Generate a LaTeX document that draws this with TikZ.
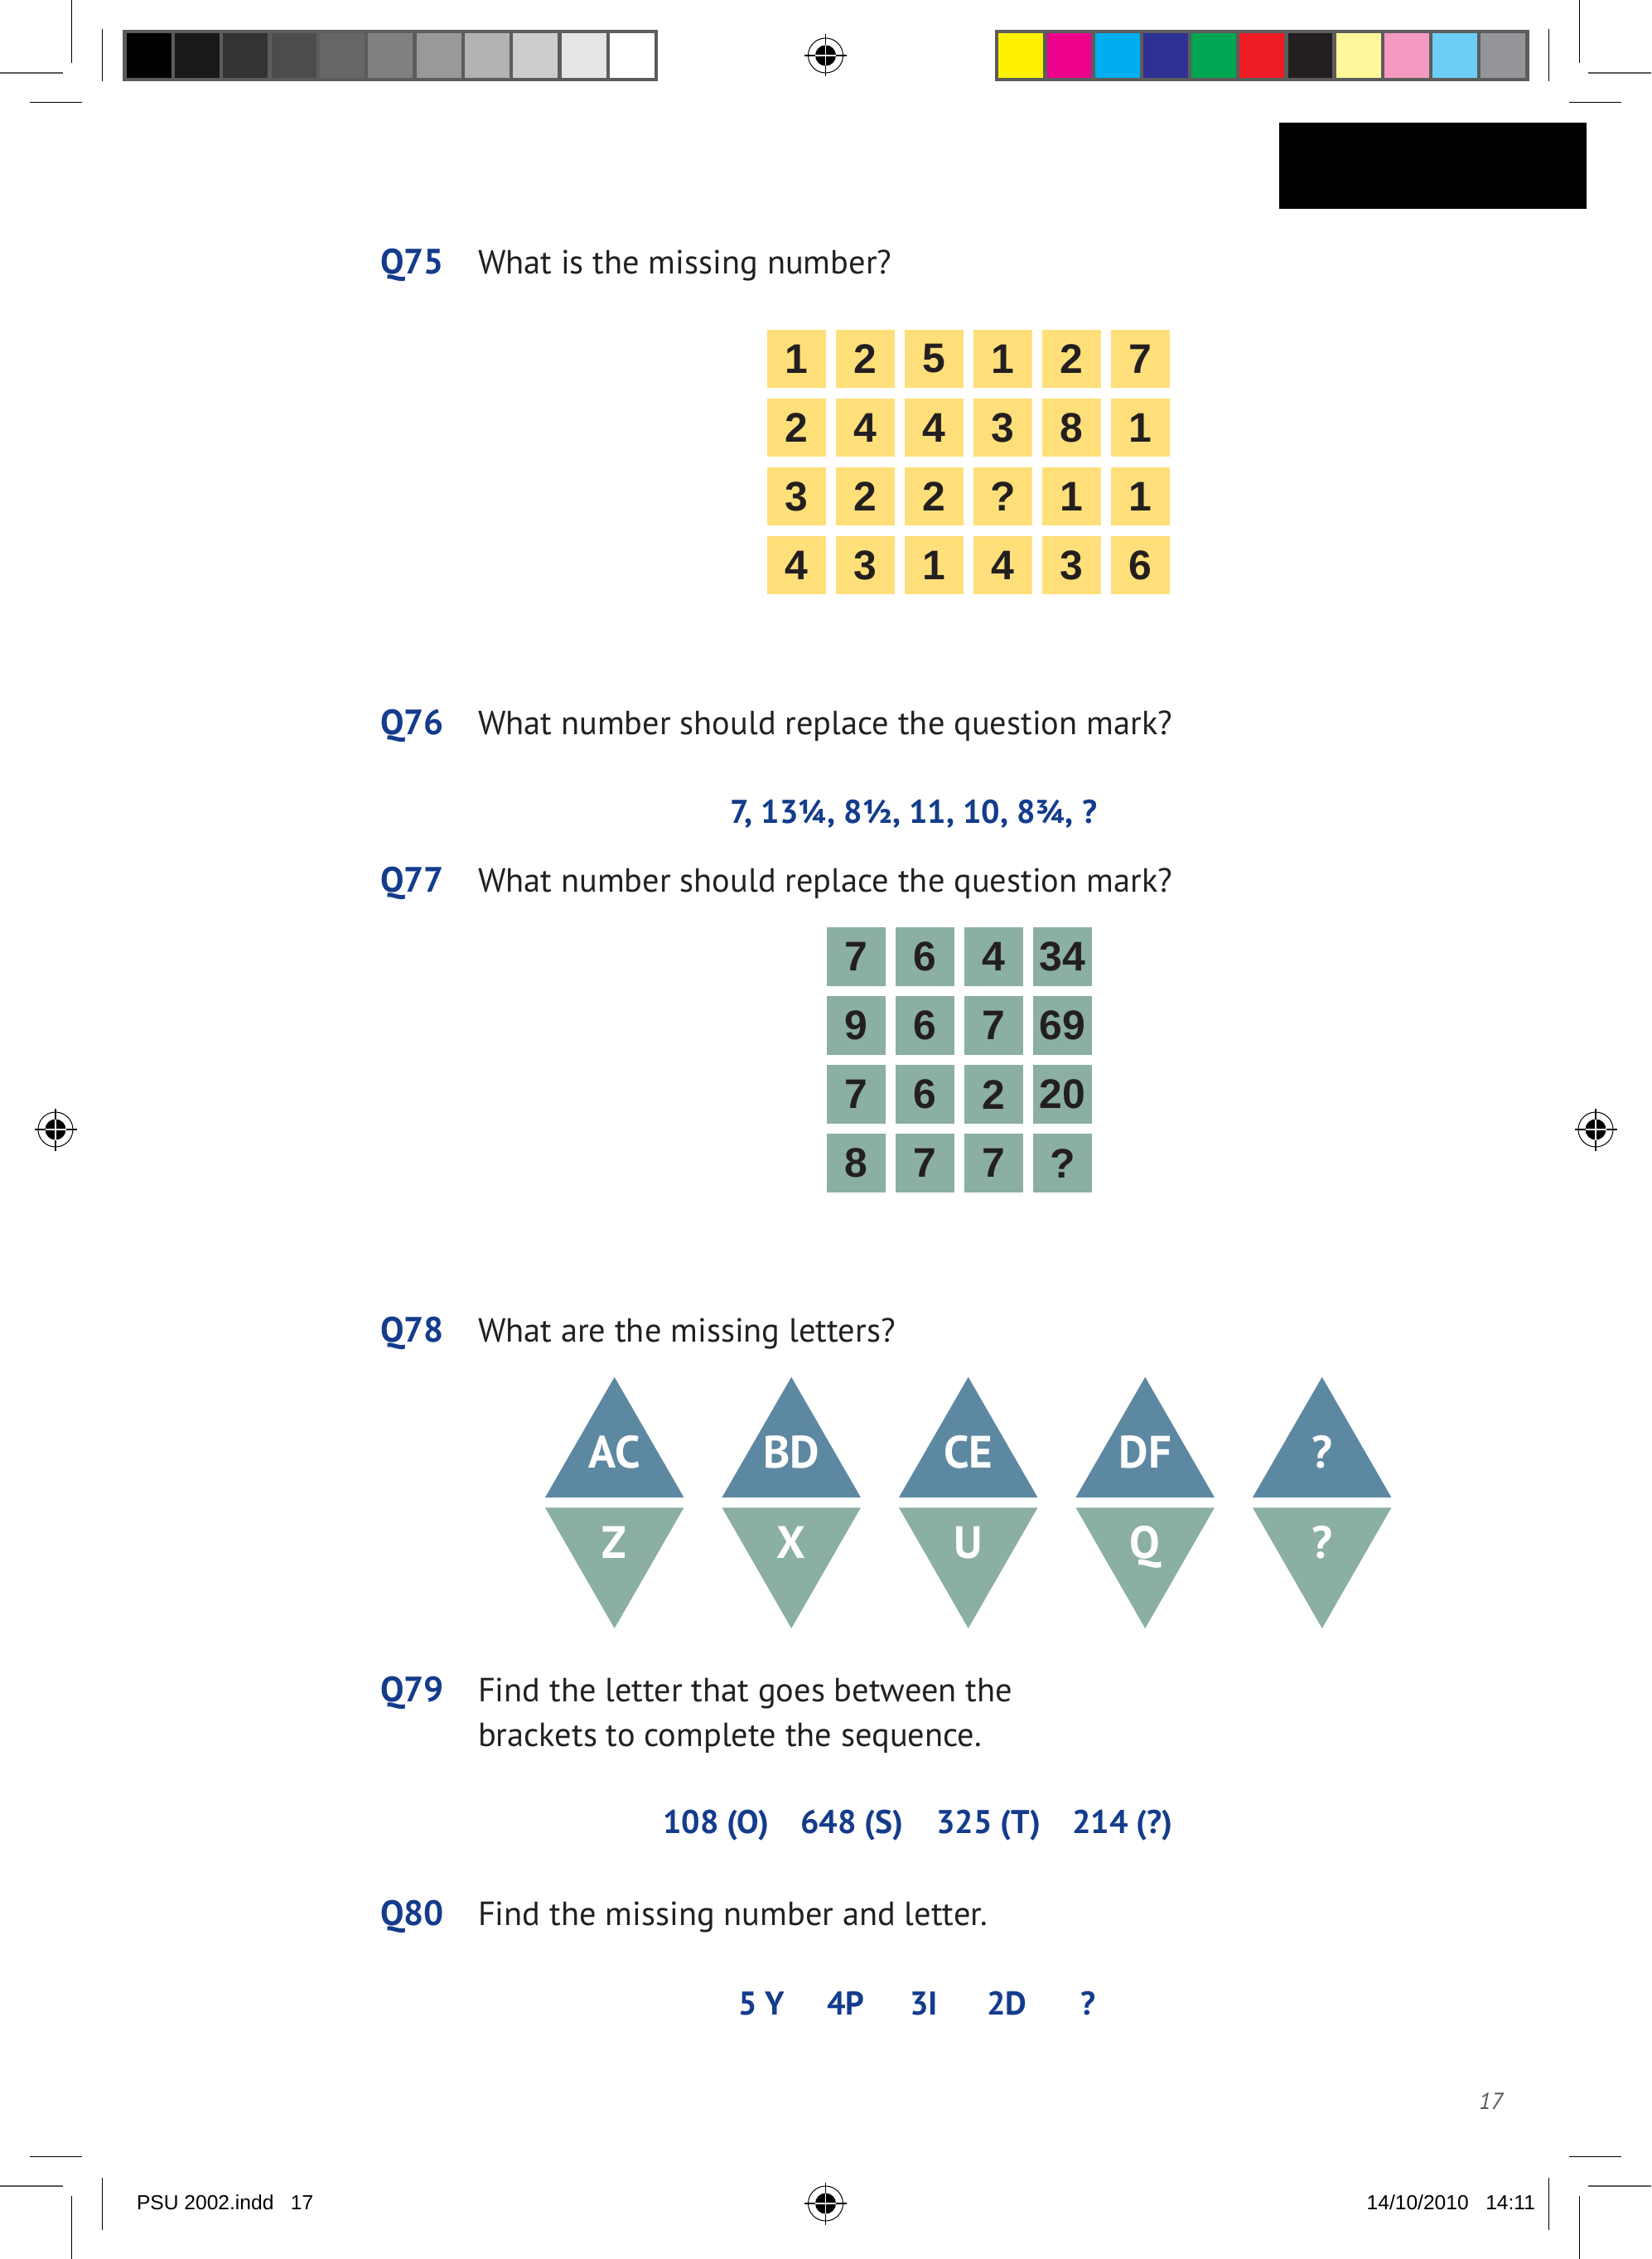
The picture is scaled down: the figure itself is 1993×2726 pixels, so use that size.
\documentclass[tikz,border=0pt]{standalone}
\usepackage{fontspec}
\setmainfont{PT Sans}
\newfontfamily\helv{Liberation Sans}
\usetikzlibrary{positioning}
\definecolor{qblue}{RGB}{20,60,140}
\definecolor{qtext}{RGB}{35,31,32}
\definecolor{cellyellow}{RGB}{255,223,122}
\definecolor{cellgreen}{RGB}{139,175,161}
\definecolor{triblue}{RGB}{93,136,162}
\definecolor{framegray}{RGB}{92,92,92}

\begin{document}
\begin{tikzpicture}[x=0.1mm, y=-0.1mm, inner sep=0pt, outer sep=0pt]
\tikzstyle{qlabel}=[anchor=base west, text=qblue, font=\fontsize{12.1}{13}\selectfont\bfseries]
\tikzstyle{qtext}=[anchor=base west, text=qtext, font=\fontsize{11.5}{13}\selectfont]
\tikzstyle{seq}=[anchor=base west, text=qblue, font=\fontsize{11.3}{13}\selectfont\bfseries]
\tikzstyle{ycell}=[fill=cellyellow, minimum width=7.15mm, minimum height=7.05mm, text=qtext, font=\helv\fontsize{14.2}{16}\selectfont\bfseries]
\tikzstyle{gcell}=[ycell, fill=cellgreen, minimum width=7.1mm]
\tikzstyle{trilabel}=[anchor=base, text=white, font=\fontsize{15.6}{17}\selectfont\bfseries]
\tikzstyle{crop}=[line width=0.12mm]
\useasboundingbox (0,0) rectangle (1993,2726);

\foreach \ox/\oy/\sx/\sy in {0/0/1/1, 1993/0/-1/1, 0/2726/1/-1, 1993/2726/-1/-1} {
  \begin{scope}[shift={(\ox,\oy)}, xscale=\sx, yscale=\sy]
    \draw[crop] (86.4,0) -- (86.4,76);
    \draw[crop, black!65, line width=0.2mm] (0,88.3) -- (76,88.3);
    \draw[crop] (123.3,35) -- (123.3,98.3);
    \draw[crop] (35.6,123.3) -- (99,123.3);
  \end{scope}
}

\foreach \rx/\ry in {996.5/67, 996.5/2659, 67/1363, 1926/1363} {
  \begin{scope}[shift={(\rx,\ry)}]
    \draw[line width=0.1mm] (0,0) circle[radius=21];
    \fill (0,0) circle[radius=12.5];
    \draw[line width=0.12mm] (-25.5,0) -- (25.5,0) (0,-25.5) -- (0,25.5);
    \draw[white, line width=0.12mm] (-12.5,0) -- (12.5,0) (0,-12.5) -- (0,12.5);
  \end{scope}
}

\fill[framegray] (148.3,35.7) rectangle (794.3,98.3);
\foreach \i in {0,...,10} {
  \pgfmathtruncatemacro\g{100-10*\i}
  \fill[black!\g] ({152.6+58.34*\i},40) rectangle ++(54,54);
}
\fill[framegray] (1201,35.7) rectangle (1845.5,98.3);
\foreach \c [count=\i from 0] in {FFF200,EC008C,00AEEF,2E3192,00A651,ED1C24,231F20,FFF799,F49AC1,6DCFF6,939598} {
  \definecolor{barcol}{HTML}{\c}
  \fill[barcol] ({1205.3+58.2*\i},40) rectangle ++(53.9,54);
}
\fill[black] (1544,148) rectangle (1915,252);

\node[qlabel] (q75) at (459,331) {Q75};
\node[qtext]  (t75) at (577,331) {What is the missing number?};
\foreach \row [count=\j from 0] in {{1,2,5,1,2,7},{2,4,4,3,8,1},{3,2,2,?,1,1},{4,3,1,4,3,6}} {
  \foreach \v [count=\i from 0] in \row
    \node[ycell] (a\j\i) at ({961.3+83*\i},{433+83*\j}) {\v};
}

\node[qlabel] (q76) at (459,886) {Q76};
\node[qtext]  (t76) at (577,886) {What number should replace the question mark?};
\node[seq]    (s76) at (881,993) {7, 13¼, 8½, 11, 10, 8¾, ?};

\node[qlabel] (q77) at (459,1076) {Q77};
\node[qtext]  (t77) at (577,1076) {What number should replace the question mark?};
\foreach \row [count=\j from 0] in {{7,6,4,34},{9,6,7,69},{7,6,2,20},{8,7,7,?}} {
  \foreach \v [count=\i from 0] in \row
    \node[gcell] (b\j\i) at ({1033.5+83*\i},{1154.7+83*\j}) {\v};
}

\node[qlabel] (q78) at (459,1619) {Q78};
\node[qtext]  (t78) at (577,1619) {What are the missing letters?};
\foreach \t/\b [count=\k from 0] in {AC/Z,BD/X,CE/U,DF/Q,?/?} {
  \pgfmathsetmacro\cx{741.7+213.5*\k}
  \fill[triblue] (\cx,1661.7) -- (\cx-83.75,1807) -- (\cx+83.75,1807) -- cycle;
  \fill[cellgreen] (\cx-83.75,1819.3) -- (\cx+83.75,1819.3) -- (\cx,1965) -- cycle;
  \node[trilabel] (up\k) at (\cx,1771.7) {\t};
  \node[trilabel] (dn\k) at (\cx,1880.7) {\b};
}

\node[qlabel] (q79) at (459,2053) {Q79};
\node[qtext]  (t79) at (577,2053) {Find the letter that goes between the};
\node[qtext]  (t79b) at (577,2107) {brackets to complete the sequence.};
\node[seq] (s79a) at (800,2212) {108 (O)};
\node[seq] (s79b) at (966,2212) {648 (S)};
\node[seq] (s79c) at (1130,2212) {325 (T)};
\node[seq] (s79d) at (1294,2212) {214 (?)};

\node[qlabel] (q80) at (459,2323) {Q80};
\node[qtext]  (t80) at (577,2323) {Find the missing number and letter.};
\node[seq] (s80a) at (891,2431) {5 Y};
\node[seq] (s80b) at (998,2431) {4P};
\node[seq] (s80c) at (1098,2431) {3I};
\node[seq] (s80d) at (1191,2431) {2D};
\node[seq] (s80e) at (1304,2431) {?};

\node[anchor=base west, text=black!65, font=\fontsize{8}{10}\selectfont\itshape] (pg) at (1785,2545) {17};
\node[anchor=base west, font=\helv\fontsize{7}{9}\selectfont] (f1) at (165,2666) {PSU 2002.indd\ \ \ 17};
\node[anchor=base east, font=\helv\fontsize{7}{9}\selectfont] (f2) at (1853,2666) {14/10/2010\ \ \ 14:11};
\end{tikzpicture}
\end{document}
